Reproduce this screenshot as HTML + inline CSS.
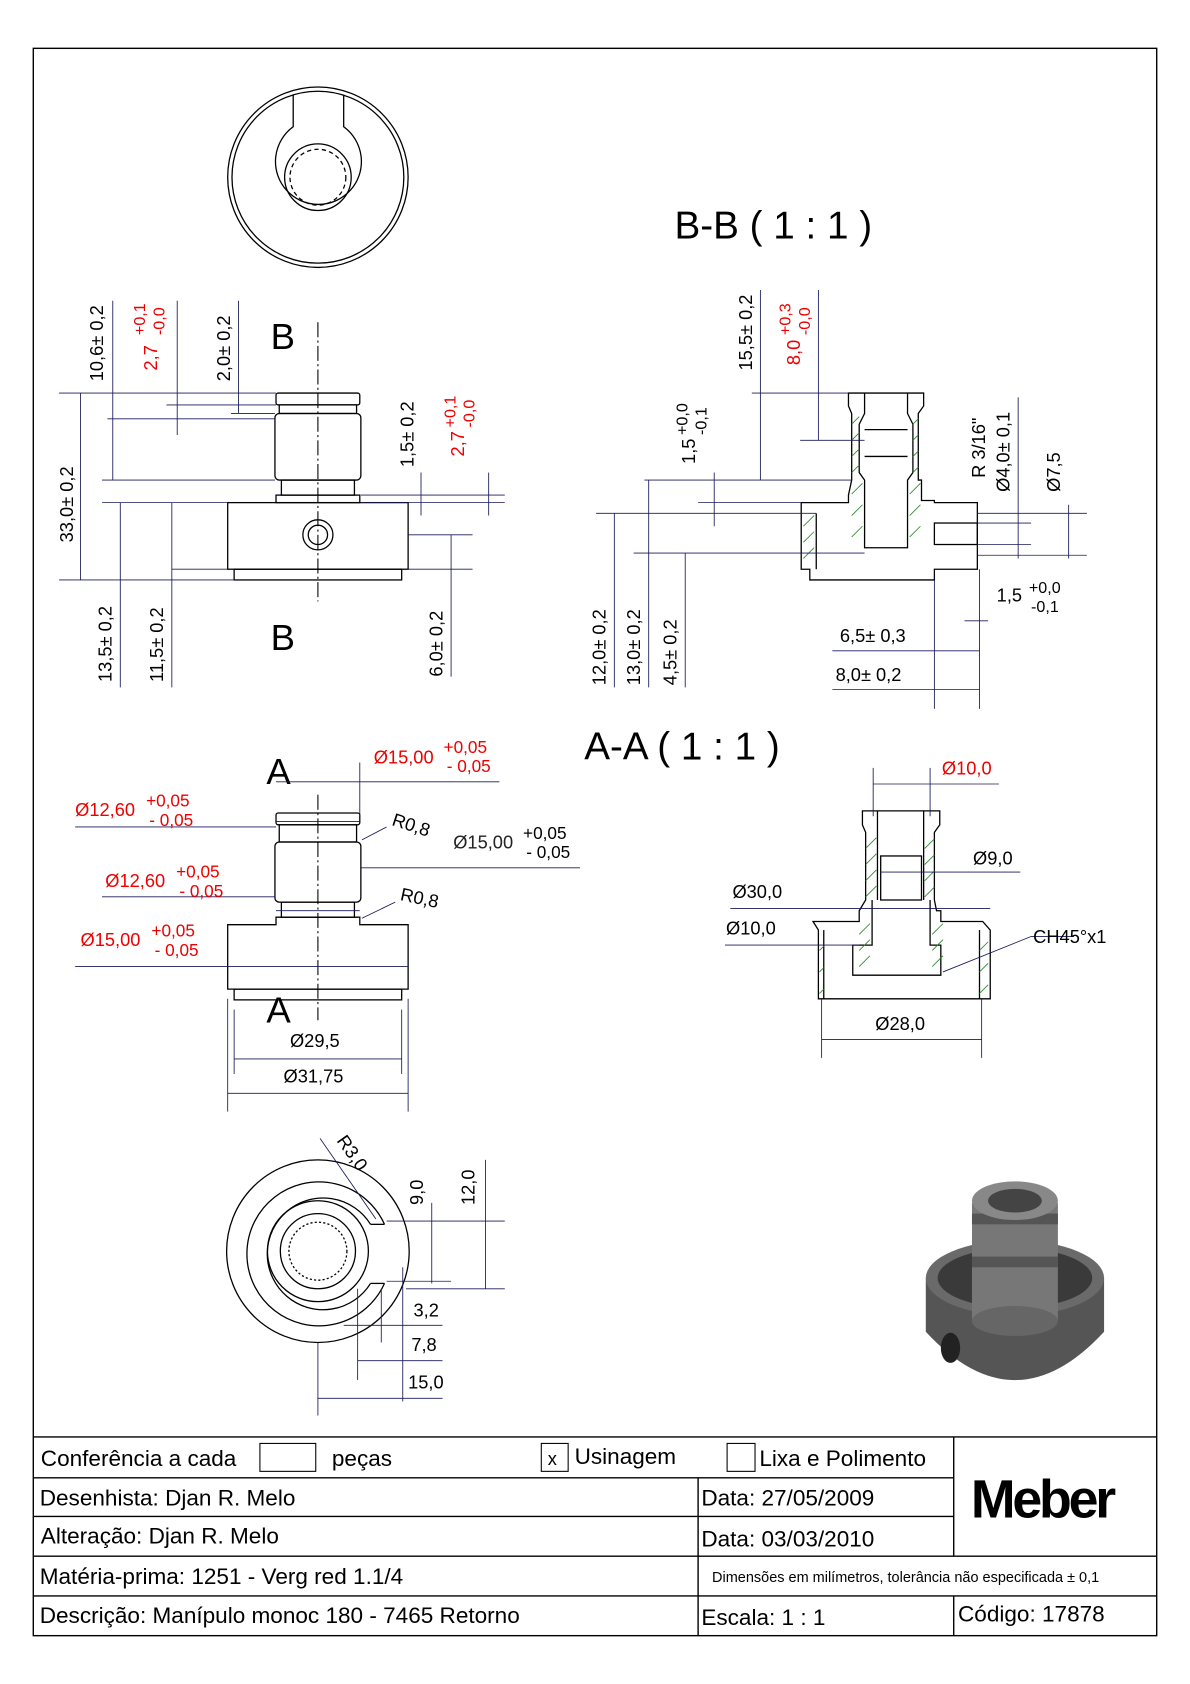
<!DOCTYPE html>
<html><head><meta charset="utf-8"><style>
html,body{margin:0;padding:0;background:#fff;}
svg{display:block;}
text{font-family:"Liberation Sans",sans-serif;}
</style></head><body>
<svg width="1190" height="1684" viewBox="0 0 1108 1568" preserveAspectRatio="none" xmlns="http://www.w3.org/2000/svg">
<rect x="31" y="45" width="1046" height="1478" fill="none" stroke="#000" stroke-width="1.3"/>

<!-- top view -->
<g fill="none" stroke="#000" stroke-width="1.2">
<circle cx="296" cy="165" r="84"/><circle cx="296" cy="165" r="80"/>
<path d="M273 88 L273 118 A40 40 0 1 0 320 118 L320 88"/>
<circle cx="296" cy="165" r="31"/>
<circle cx="296" cy="165" r="26" stroke-dasharray="4 3"/>
</g>
<text x="628" y="222" font-size="36">B-B  ( 1 : 1 )</text>
<text x="544" y="707" font-size="36">A-A  ( 1 : 1 )</text>

<!-- front view B -->
<g fill="none" stroke="#000" stroke-width="1.2">
<rect x="257" y="366" width="78" height="11" rx="2"/>
<rect x="260" y="377" width="72" height="8"/>
<rect x="256" y="385" width="80" height="62" rx="4"/>
<rect x="262" y="447" width="68" height="14"/>
<rect x="257" y="461" width="78" height="7"/>
<rect x="212" y="468" width="168" height="62"/>
<rect x="218" y="530" width="156" height="10"/>
<circle cx="296" cy="498" r="14"/><circle cx="296" cy="498" r="9"/>
</g>
<line x1="296" y1="300" x2="296" y2="560" stroke="#000" stroke-dasharray="14 3 2 3"/>
<text x="252" y="325" font-size="34">B</text><text x="252" y="605" font-size="34">B</text>
<g stroke="#1a1a5a" stroke-width="0.8">
<line x1="55" y1="366" x2="257" y2="366"/><line x1="55" y1="540" x2="218" y2="540"/>
<line x1="75" y1="366" x2="75" y2="540"/><line x1="100" y1="390" x2="256" y2="390"/>
<line x1="105" y1="280" x2="105" y2="447"/><line x1="95" y1="447" x2="256" y2="447"/>
<line x1="95" y1="468" x2="212" y2="468"/><line x1="112" y1="468" x2="112" y2="640"/>
<line x1="160" y1="468" x2="160" y2="640"/><line x1="160" y1="530" x2="212" y2="530"/>
<line x1="165" y1="280" x2="165" y2="405"/><line x1="155" y1="377" x2="257" y2="377"/>
<line x1="222" y1="280" x2="222" y2="385"/><line x1="215" y1="385" x2="256" y2="385"/>
<line x1="336" y1="461" x2="470" y2="461"/><line x1="336" y1="468" x2="470" y2="468"/>
<line x1="392" y1="440" x2="392" y2="480"/><line x1="455" y1="440" x2="455" y2="480"/>
<line x1="380" y1="498" x2="440" y2="498"/><line x1="420" y1="498" x2="420" y2="630"/>
<line x1="380" y1="530" x2="440" y2="530"/>
</g>
<g font-size="17">
<text transform="translate(96,355) rotate(-90)">10,6± 0,2</text>
<text transform="translate(146,345) rotate(-90)" fill="#e00">2,7 </text>
<text transform="translate(135,312) rotate(-90)" fill="#e00" font-size="15">+0,1</text>
<text transform="translate(153,312) rotate(-90)" fill="#e00" font-size="15">-0,0</text>
<text transform="translate(214,355) rotate(-90)">2,0± 0,2</text>
<text transform="translate(68,505) rotate(-90)">33,0± 0,2</text>
<text transform="translate(385,435) rotate(-90)">1,5± 0,2</text>
<text transform="translate(432,425) rotate(-90)" fill="#e00">2,7</text>
<text transform="translate(424,398) rotate(-90)" fill="#e00" font-size="15">+0,1</text>
<text transform="translate(442,398) rotate(-90)" fill="#e00" font-size="15">-0,0</text>
<text transform="translate(104,635) rotate(-90)">13,5± 0,2</text>
<text transform="translate(152,635) rotate(-90)">11,5± 0,2</text>
<text transform="translate(412,630) rotate(-90)">6,0± 0,2</text>
</g>

<!-- B-B section -->
<g fill="none" stroke="#000" stroke-width="1.2">
<path d="M790 366 L860 366 L860 378 L855 385 L855 447 L858 447 L858 466 L870 466 L870 468 L910 468 L910 530 L870 530 L870 540 L754 540 L754 530 L746 530 L746 468 L790 468 L790 461 L793 447 L793 385 L790 378 Z"/>
<path d="M805 366 L805 385 L800 395 L800 440 L805 447 L805 510 L845 510 L845 447 L850 440 L850 395 L845 385 L845 366"/>
<line x1="805" y1="400" x2="845" y2="400"/><line x1="805" y1="425" x2="845" y2="425"/>
<rect x="870" y="487" width="40" height="20"/>
<line x1="760" y1="478" x2="760" y2="530"/>
</g>
<g stroke="#2a8a2a" stroke-width="0.8">
<path d="M793 395 l7 -7 M793 410 l7 -7 M793 425 l7 -7 M793 440 l7 -7 M793 460 l10 -10 M793 480 l10 -10 M793 500 l10 -10 M850 395 l5 -5 M850 410 l5 -5 M850 425 l5 -5 M850 440 l5 -5 M847 460 l10 -10 M847 480 l10 -10 M847 500 l10 -10 M748 490 l10 -10 M748 505 l10 -10 M748 520 l10 -10"/>
</g>
<g stroke="#1a1a5a" stroke-width="0.8">
<line x1="708" y1="270" x2="708" y2="447"/><line x1="700" y1="366" x2="790" y2="366"/>
<line x1="762" y1="270" x2="762" y2="410"/><line x1="745" y1="410" x2="805" y2="410"/>
<line x1="600" y1="447" x2="793" y2="447"/><line x1="665" y1="440" x2="665" y2="490"/>
<line x1="650" y1="468" x2="746" y2="468"/><line x1="555" y1="478" x2="760" y2="478"/>
<line x1="572" y1="478" x2="572" y2="640"/><line x1="604" y1="447" x2="604" y2="640"/>
<line x1="638" y1="515" x2="638" y2="640"/><line x1="590" y1="515" x2="805" y2="515"/>
<line x1="910" y1="487" x2="960" y2="487"/><line x1="910" y1="507" x2="960" y2="507"/>
<line x1="948" y1="370" x2="948" y2="520"/><line x1="910" y1="478" x2="1012" y2="478"/>
<line x1="910" y1="517" x2="1012" y2="517"/><line x1="995" y1="470" x2="995" y2="520"/>
<line x1="870" y1="540" x2="870" y2="660"/><line x1="912" y1="530" x2="912" y2="660"/>
<line x1="898" y1="578" x2="920" y2="578"/>
<line x1="775" y1="606" x2="912" y2="606"/><line x1="775" y1="642" x2="912" y2="642"/>
</g>
<g font-size="17">
<text transform="translate(700,345) rotate(-90)">15,5± 0,2</text>
<text transform="translate(745,340) rotate(-90)" fill="#e00">8,0</text>
<text transform="translate(736,312) rotate(-90)" fill="#e00" font-size="15">+0,3</text>
<text transform="translate(754,312) rotate(-90)" fill="#e00" font-size="15">-0,0</text>
<text transform="translate(647,432) rotate(-90)">1,5</text>
<text transform="translate(640,405) rotate(-90)" font-size="15">+0,0</text>
<text transform="translate(658,405) rotate(-90)" font-size="15">-0,1</text>
<text transform="translate(564,638) rotate(-90)">12,0± 0,2</text>
<text transform="translate(596,638) rotate(-90)">13,0± 0,2</text>
<text transform="translate(630,638) rotate(-90)">4,5± 0,2</text>
<text transform="translate(917,445) rotate(-90)">R 3/16"</text>
<text transform="translate(940,458) rotate(-90)">Ø4,0± 0,1</text>
<text transform="translate(987,458) rotate(-90)">Ø7,5</text>
<text x="928" y="560">1,5</text><text x="958" y="552" font-size="15">+0,0</text><text x="960" y="570" font-size="15">-0,1</text>
<text x="782" y="598">6,5± 0,3</text><text x="778" y="634">8,0± 0,2</text>
</g>

<!-- A-A front -->
<g fill="none" stroke="#000" stroke-width="1.2">
<rect x="257" y="757" width="78" height="11" rx="2"/>
<rect x="260" y="768" width="72" height="16"/>
<rect x="256" y="784" width="80" height="56" rx="4"/>
<rect x="262" y="840" width="68" height="14"/>
<path d="M257 854 L335 854 L335 861 L380 861 L380 921 L212 921 L212 861 L257 861 Z"/>
<rect x="218" y="921" width="156" height="10"/>
</g>
<line x1="296" y1="740" x2="296" y2="950" stroke="#000" stroke-dasharray="14 3 2 3"/>
<text x="248" y="730" font-size="34">A</text><text x="248" y="952" font-size="34">A</text>
<g stroke="#1a1a5a" stroke-width="0.8">
<line x1="257" y1="728" x2="465" y2="728"/><line x1="335" y1="710" x2="335" y2="760"/>
<line x1="70" y1="770" x2="257" y2="770"/><line x1="336" y1="808" x2="540" y2="808"/>
<line x1="95" y1="835" x2="256" y2="835"/><line x1="70" y1="900" x2="380" y2="900"/>
<line x1="257" y1="848" x2="335" y2="848"/><line x1="257" y1="765" x2="335" y2="765"/>
<line x1="212" y1="930" x2="212" y2="1035"/><line x1="380" y1="930" x2="380" y2="1035"/>
<line x1="218" y1="940" x2="218" y2="1000"/><line x1="374" y1="940" x2="374" y2="1000"/>
<line x1="218" y1="986" x2="374" y2="986"/><line x1="212" y1="1018" x2="380" y2="1018"/>
<line x1="337" y1="782" x2="360" y2="770"/><line x1="337" y1="855" x2="368" y2="840"/>
</g>
<g font-size="17">
<text x="348" y="711" fill="#e00">Ø15,00</text><text x="413" y="701" fill="#e00" font-size="16">+0,05</text><text x="416" y="719" fill="#e00" font-size="16">- 0,05</text>
<text x="70" y="760" fill="#e00">Ø12,60</text><text x="136" y="751" fill="#e00" font-size="16">+0,05</text><text x="139" y="769" fill="#e00" font-size="16">- 0,05</text>
<text x="422" y="790" fill="#222">Ø15,00</text><text x="487" y="781" font-size="16">+0,05</text><text x="490" y="799" font-size="16">- 0,05</text>
<text x="98" y="826" fill="#e00">Ø12,60</text><text x="164" y="817" fill="#e00" font-size="16">+0,05</text><text x="167" y="835" fill="#e00" font-size="16">- 0,05</text>
<text x="75" y="881" fill="#e00">Ø15,00</text><text x="141" y="872" fill="#e00" font-size="16">+0,05</text><text x="144" y="890" fill="#e00" font-size="16">- 0,05</text>
<text transform="translate(364,768) rotate(18)">R0,8</text>
<text transform="translate(372,838) rotate(12)">R0,8</text>
<text x="270" y="975">Ø29,5</text><text x="264" y="1008">Ø31,75</text>
</g>

<!-- A-A section -->
<g fill="none" stroke="#000" stroke-width="1.2">
<path d="M803 755 L875 755 L875 768 L870 775 L870 838 L872 848 L876 848 L876 858 L915 858 L922 866 L922 930 L762 930 L762 866 L757 858 L800 858 L800 848 L806 838 L806 775 L803 768 Z"/>
<line x1="817" y1="755" x2="817" y2="838"/><line x1="860" y1="755" x2="860" y2="838"/>
<rect x="820" y="797" width="38" height="41"/>
<path d="M812 838 L812 880 L794 880 L794 908 L876 908 L876 880 L866 880 L866 838"/>
<line x1="767" y1="866" x2="767" y2="930"/><line x1="912" y1="866" x2="912" y2="930"/>
</g>
<g stroke="#2a8a2a" stroke-width="0.8">
<path d="M806 790 l10 -10 M806 805 l10 -10 M806 820 l10 -10 M806 835 l10 -10 M861 790 l9 -9 M861 805 l9 -9 M861 820 l9 -9 M861 835 l9 -9 M800 870 l10 -10 M800 885 l10 -10 M800 900 l10 -10 M868 870 l10 -10 M868 885 l10 -10 M868 900 l10 -10 M763 885 l4 -4 M763 905 l4 -4 M763 925 l4 -4 M912 885 l8 -8 M912 905 l8 -8 M912 925 l8 -8"/>
</g>
<g stroke="#1a1a5a" stroke-width="0.8">
<line x1="813" y1="715" x2="813" y2="760"/><line x1="866" y1="715" x2="866" y2="760"/>
<line x1="813" y1="730" x2="930" y2="730"/>
<line x1="820" y1="812" x2="950" y2="812"/>
<line x1="680" y1="846" x2="922" y2="846"/>
<line x1="675" y1="880" x2="800" y2="880"/>
<line x1="878" y1="905" x2="960" y2="872"/><line x1="960" y1="872" x2="1000" y2="872"/>
<line x1="765" y1="930" x2="765" y2="985"/><line x1="914" y1="930" x2="914" y2="985"/>
<line x1="765" y1="968" x2="914" y2="968"/>
</g>
<g font-size="17">
<text x="877" y="721" fill="#e00">Ø10,0</text>
<text x="906" y="805">Ø9,0</text>
<text x="682" y="836">Ø30,0</text>
<text x="676" y="870">Ø10,0</text>
<text x="962" y="878">CH45°x1</text>
<text x="815" y="959">Ø28,0</text>
</g>

<!-- bottom view -->
<g fill="none" stroke="#000" stroke-width="1.2">
<circle cx="296" cy="1165" r="85"/>
<path d="M358 1140 A67 67 0 1 0 358 1195" />
<line x1="345" y1="1140" x2="358" y2="1140"/><line x1="345" y1="1195" x2="358" y2="1195"/>
<path d="M345 1140 A52 52 0 1 0 345 1195"/>
<circle cx="296" cy="1165" r="47"/>
<circle cx="296" cy="1165" r="35"/>
<circle cx="296" cy="1165" r="27" stroke-dasharray="2 2"/>
</g>
<g stroke="#1a1a5a" stroke-width="0.8">
<line x1="298" y1="1060" x2="350" y2="1135"/>
<line x1="360" y1="1137" x2="470" y2="1137"/><line x1="360" y1="1193" x2="420" y2="1193"/>
<line x1="378" y1="1200" x2="470" y2="1200"/>
<line x1="402" y1="1120" x2="402" y2="1195"/><line x1="452" y1="1080" x2="452" y2="1200"/>
<line x1="296" y1="1250" x2="296" y2="1318"/><line x1="333" y1="1200" x2="333" y2="1285"/>
<line x1="355" y1="1200" x2="355" y2="1250"/><line x1="375" y1="1180" x2="375" y2="1305"/>
<line x1="320" y1="1234" x2="412" y2="1234"/><line x1="333" y1="1267" x2="412" y2="1267"/>
<line x1="296" y1="1302" x2="412" y2="1302"/>
</g>
<g font-size="17">
<text transform="translate(313,1062) rotate(55)">R3,0</text>
<text transform="translate(394,1122) rotate(-90)">9,0</text>
<text transform="translate(442,1122) rotate(-90)">12,0</text>
<text x="385" y="1226">3,2</text><text x="383" y="1258">7,8</text><text x="380" y="1293">15,0</text>
</g>

<!-- 3D part -->
<g>
<path d="M862 1190 L862 1240 Q945 1330 1028 1240 L1028 1190 Z" fill="#555"/>
<ellipse cx="945" cy="1190" rx="83" ry="35" fill="#6a6a6a"/>
<ellipse cx="945" cy="1190" rx="72" ry="28" fill="#3a3a3a"/>
<rect x="905" y="1120" width="80" height="110" fill="#777"/>
<ellipse cx="945" cy="1230" rx="40" ry="14" fill="#666"/>
<rect x="905" y="1130" width="80" height="10" fill="#555"/>
<rect x="905" y="1170" width="80" height="10" fill="#555"/>
<ellipse cx="945" cy="1118" rx="40" ry="18" fill="#888"/>
<ellipse cx="945" cy="1118" rx="25" ry="11" fill="#444"/>
<ellipse cx="885" cy="1255" rx="9" ry="14" fill="#222"/>
</g>

<!-- title block -->
<g stroke="#000" stroke-width="1.3" fill="none">
<line x1="31" y1="1338" x2="1077" y2="1338"/>
<line x1="31" y1="1376" x2="888" y2="1376"/>
<line x1="31" y1="1412" x2="888" y2="1412"/>
<line x1="31" y1="1449" x2="1077" y2="1449"/>
<line x1="31" y1="1486" x2="1077" y2="1486"/>
<line x1="650" y1="1376" x2="650" y2="1523"/>
<line x1="888" y1="1338" x2="888" y2="1449"/>
<line x1="888" y1="1486" x2="888" y2="1523"/>
<rect x="242" y="1344" width="52" height="26" stroke-width="1"/>
<rect x="504" y="1344" width="25" height="26" stroke-width="1"/>
<rect x="677" y="1344" width="26" height="26" stroke-width="1"/>
</g>
<g font-size="21">
<text x="38" y="1365">Conferência a cada</text>
<text x="309" y="1365">peças</text>
<text x="510" y="1364" font-size="17">x</text>
<text x="535" y="1363">Usinagem</text>
<text x="707" y="1365">Lixa e Polimento</text>
<text x="37" y="1402">Desenhista: Djan R. Melo</text>
<text x="653" y="1402">Data: 27/05/2009</text>
<text x="38" y="1437">Alteração: Djan R. Melo</text>
<text x="653" y="1440">Data: 03/03/2010</text>
<text x="37" y="1475">Matéria-prima: 1251 - Verg red 1.1/4</text>
<text x="663" y="1473" font-size="13.5">Dimensões em milímetros, tolerância não especificada ± 0,1</text>
<text x="37" y="1511">Descrição: Manípulo monoc 180 - 7465 Retorno</text>
<text x="653" y="1513">Escala: 1 : 1</text>
<text x="892" y="1510">Código: 17878</text>
<text x="904" y="1413" font-size="50" font-weight="bold" letter-spacing="-3">Meber</text>
</g>
</svg>
</body></html>
